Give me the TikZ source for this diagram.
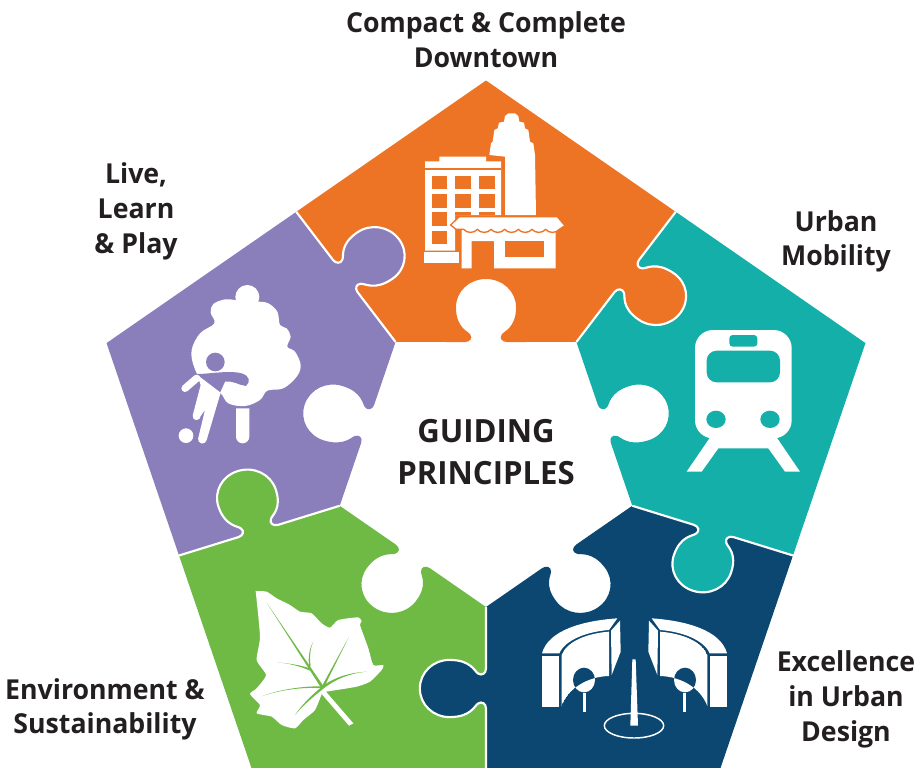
\documentclass[tikz,border=0pt]{standalone}
\usepackage{fontspec}
\setmainfont{Open Sans}[BoldFont={Open Sans Bold},BoldFeatures={FakeStretch=0.972}]
\definecolor{orangeP}{HTML}{ED7325}
\definecolor{purpleP}{HTML}{8A7FBA}
\definecolor{tealP}{HTML}{14AFA8}
\definecolor{blueP}{HTML}{0B4771}
\definecolor{greenP}{HTML}{6FBA45}
\definecolor{inkP}{HTML}{231F20}
\tikzset{
  so/.style={rotate=#1,shift={(228,0)},yscale=-1},
  si/.style={rotate=#1,shift={(228,0)},xscale=-1,yscale=-1},
  ed/.style={rotate=#1,shift={(118.5,0)},cm={0,1,1,0,(0,0)}},
  lab/.style={align=center,text=inkP,font=\bfseries\fontsize{20.6}{26}\selectfont},
  big/.style={align=center,text=inkP,font=\bfseries\fontsize{24}{32}\selectfont},
}
\newcommand\Kn[1]{ -- ([#1]-20,0) .. controls ([#1]-15,0) and ([#1]-12.5,4) .. ([#1]-15,7.5)
  .. controls ([#1]-17,11) and ([#1]-28.6,14) .. ([#1]-28.6,34.7)
  .. controls ([#1]-28.6,50.5) and ([#1]-16,63) .. ([#1]0,63)
  .. controls ([#1]16,63) and ([#1]28.6,50.5) .. ([#1]28.6,34.7)
  .. controls ([#1]28.6,14) and ([#1]17,11) .. ([#1]15,7.5)
  .. controls ([#1]12.5,4) and ([#1]15,0) .. ([#1]20,0) }
\newcommand\Piece[2]{\fill[#1] ([rotate=#2+36]146.5,0) \Kn{so=#2+36} -- ([rotate=#2+36]307.4,0) -- ([rotate=#2]380,0)
  -- ([rotate=#2-36]307.4,0) \Kn{si=#2-36} -- ([rotate=#2-36]146.5,0) \Kn{ed=#2} -- cycle;}
% half of the fountain gate
\newcommand\GateHalf{%
  \fill[white] (36,160) .. controls (55,90) and (160,62) .. (262,55) -- (237,90) .. controls (170,95) and (105,120) .. (88,160) -- cycle;
  \fill[white] (36,167) rectangle (88,320);
  \fill[white] (270,62) -- (272,155) -- (245,225) -- (243,92) -- cycle;
  \fill[white] (162,240) ellipse [x radius=33,y radius=37];
  \begin{scope}
    \clip (95,165) .. controls (110,125) and (170,100) .. (237,95) -- (237,228) .. controls (170,230) and (115,265) .. (95,318) -- cycle;
    \fill[white] (95,165) .. controls (110,125) and (170,100) .. (237,95) -- (237,228) .. controls (170,230) and (115,265) .. (95,318) -- cycle;
    \fill[blueP] (162,240) ellipse [x radius=33,y radius=37];
  \end{scope}
  \fill[white] (159,278) rectangle (167,336);
}
\begin{document}
\begin{tikzpicture}[x=.75pt,y=-.75pt]
\useasboundingbox (0,0) rectangle (918,768);
% ---- puzzle ----
\begin{scope}[shift={(486,460.5)},y=.75pt,xscale=1.05]
  \Piece{orangeP}{90}
  \Piece{purpleP}{162}
  \Piece{greenP}{234}
  \Piece{blueP}{306}
  \Piece{tealP}{18}
  \foreach \a in {54,126,198,270,342}{
    \draw[white,line width=1.6pt] ([rotate=\a]146.5,0) \Kn{so=\a} -- ([rotate=\a]307.4,0);
  }
\end{scope}
% ---- buildings ----
\begin{scope}[x=.25pt,y=-.25pt,shift={(1200,300)}]
  \fill[white] (268,165) -- (273,130) -- (278,125) -- (283,90) -- (293,85) -- (297,68) -- (312,65) -- (315,48) -- (325,40) -- (345,40) -- (355,48) -- (358,65) -- (372,68) -- (375,85) -- (385,90) -- (390,125) -- (400,130) -- (405,165) -- (408,345) -- (315,345) -- (315,170) -- cycle;
  \fill[white] (118,170) -- (258,170) -- (258,184) -- (303,184) -- (303,345) -- (165,345) -- (165,452) -- (75,452) -- (75,184) -- (118,184) -- cycle;
  \draw[orangeP,line width=.8pt] (75,207) -- (303,207);
  \foreach \cx in {95,166,238}{
    \fill[orangeP] (\cx,228) rectangle ++(46,40);
    \fill[orangeP] (\cx,283) rectangle ++(46,40);
  }
  \fill[orangeP] (95,337) rectangle ++(46,40);
  \fill[orangeP] (166,337) rectangle ++(46,8);
  \fill[orangeP] (238,337) rectangle ++(46,8);
  \fill[orangeP] (95,392) rectangle ++(46,40);
  \fill[white] (72,455) rectangle (177,488);
  \fill[white] (185,390) -- (467,390) -- (467,505) -- (282,505) -- (282,423) -- (215,423) -- (215,505) -- (185,505) -- cycle;
  \fill[orangeP] (316,423) rectangle (432,472);
  \path[fill=white,draw=orangeP,line width=1pt] (178,350) -- (472,350) -- (495,377) -- (478,388)
    to[bend left=50] (437,388) to[bend left=50] (396,388) to[bend left=50] (355,388) to[bend left=50] (314,388)
    to[bend left=50] (273,388) to[bend left=50] (232,388) to[bend left=50] (191,388) -- (168,388) -- (152,375) -- cycle;
\end{scope}
% ---- train ----
\begin{scope}[x=.25pt,y=-.25pt,shift={(2010,960)}]
  \fill[white] (125,345) -- (50,455) -- (95,455) -- (145,385) -- (295,385) -- (345,455) -- (390,455) -- (315,345) -- cycle;
  \fill[white,rounded corners=13.5pt] (75,30) rectangle (365,355);
  \fill[tealP,rounded corners=2.5pt] (178,45) rectangle (262,80);
  \fill[tealP,rounded corners=7.5pt] (110,92) rectangle (330,187);
  \fill[tealP] (138,298) ellipse [x radius=29,y radius=26];
  \fill[tealP] (300,298) ellipse [x radius=29,y radius=26];
\end{scope}
% ---- tree and player ----
\begin{scope}[x=.25pt,y=-.25pt,shift={(510,810)}]
  \fill[white] plot[smooth cycle,tension=.6] coordinates {(197,90)(165,88)(130,102)(122,128)(133,160)(90,190)(65,240)(72,290)(100,340)(150,368)(175,400)(225,408)(270,390)(292,362)(340,355)(380,320)(392,285)(375,245)(352,230)(362,200)(350,175)(330,165)(322,125)(295,100)(268,95)};
  \fill[white] (232,81) circle (36);
  \fill[purpleP] (136,276) circle (28);
  \fill[purpleP] (60,305) -- (80,312) .. controls (120,312) and (180,300) .. (215,310) .. controls (240,318) and (242,335) .. (228,348) .. controls (205,345) and (185,330) .. (165,335) -- (150,368) -- (60,368) -- cycle;
  \draw[white,line width=5.5pt,line cap=round] (80,325) -- (45,355);
  \fill[white] (82,315) -- (152,368) -- (110,510) arc[start angle=10,end angle=190,radius=13] -- (105,420) -- (92,438) arc[start angle=0,end angle=190,radius=12] -- (92,345) -- cycle;
  \fill[white] (48,497) circle (22);
  \fill[white] (198,415) -- (238,415) -- (238,500) arc[start angle=0,end angle=180,radius=20] -- cycle;
\end{scope}
% ---- leaf ----
\begin{scope}[x=.25pt,y=-.25pt,shift={(720,1740)}]
  \fill[white] plot[smooth,tension=.35] coordinates {(47,33)(80,35)(110,55)(150,75)(180,95)(215,100)(245,130)(270,143)(295,120)(355,112)(365,125)(360,135)(385,205)(400,255)(430,255)(425,270)(390,305)(350,320)(290,330)(258,335)}
    -- (340,430) -- (327,437) -- (245,342)
    plot[smooth,tension=.35] coordinates {(245,342)(225,390)(190,420)(165,445)(125,435)(95,410)(50,400)(60,375)(30,342)(50,325)(78,285)(50,240)(60,170)(47,33)} -- cycle;
  \fill[greenP] (80,68) -- (250,318) -- (243,323) -- cycle;
  \fill[greenP] (326,172) -- (252,322) -- (246,318) -- cycle;
  \fill[greenP] (380,275) .. controls (330,280) and (290,295) .. (250,326) -- (245,320) .. controls (285,290) and (330,278) .. (380,275) -- cycle;
  \fill[greenP] (68,348) .. controls (120,330) and (190,320) .. (248,325) -- (248,319) .. controls (190,318) and (120,328) .. (68,348) -- cycle;
  \fill[greenP] (165,405) .. controls (190,375) and (220,350) .. (250,326) -- (245,321) .. controls (215,345) and (185,375) .. (165,405) -- cycle;
  \fill[greenP] (112,247) .. controls (145,250) and (180,258) .. (210,272) -- (206,264) .. controls (180,255) and (145,250) .. (112,247) -- cycle;
  \fill[greenP] (220,185) .. controls (208,205) and (203,235) .. (208,262) -- (212,258) .. controls (208,235) and (210,205) .. (220,185) -- cycle;
\end{scope}
% ---- fountain ----
\begin{scope}[x=.25pt,y=-.25pt,shift={(1590,1800)}]
  \GateHalf
  \begin{scope}[shift={(627,0)},xscale=-1]
    \GateHalf
  \end{scope}
  \fill[white] (307,178) -- (317,178) -- (324,377) -- (301,377) -- cycle;
  \draw[white,line width=1.1pt] (312,377) ellipse [x radius=89,y radius=37];
\end{scope}
% ---- labels ----
\node[lab] (top) at (486,40) {Compact \& Complete\\Downtown};
\node[lab] (live) at (136,211.5) {Live,\\Learn\\\& Play};
\node[lab] (urban) at (836,241.5) {Urban\\Mobility};
\node[lab] (exc) at (846,699.5) {Excellence\\in Urban\\Design};
\node[lab] (env) at (105,709.5) {Environment \&\\Sustainability};
\node[big] (gp) at (486,452) {GUIDING\\PRINCIPLES};
\end{tikzpicture}
\end{document}
